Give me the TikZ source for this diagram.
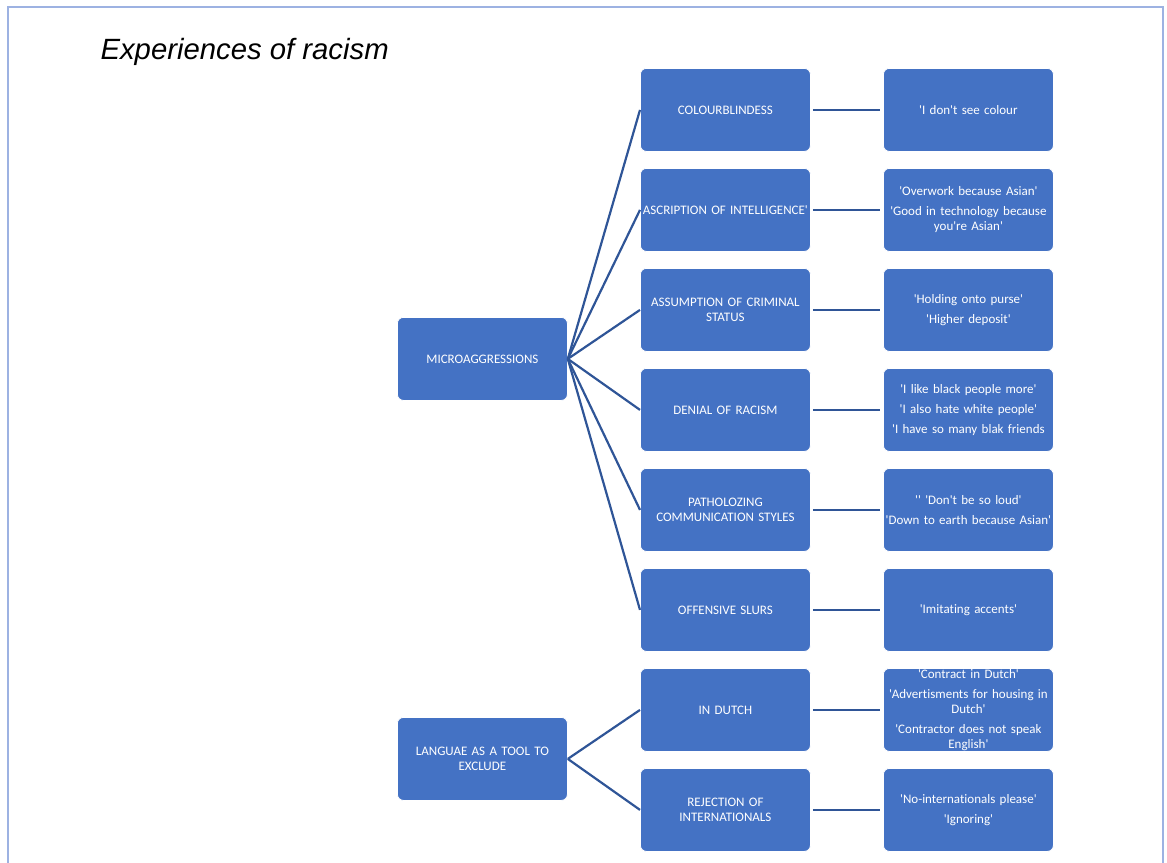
\documentclass[tikz,border=0pt]{standalone}
\usepackage{fontspec}
\setmainfont{Liberation Sans}
\newfontfamily\calfont{Carlito}[Ligatures={TeXOff,NoCommon}]
\definecolor{boxblue}{HTML}{4472C4}
\definecolor{linkblue}{HTML}{2F5597}
\definecolor{framecol}{HTML}{9DB2E2}
\begin{document}
\begin{tikzpicture}[x=1pt,y=-1pt,
  box/.style={draw=white, line width=0.8pt, fill=boxblue, rounded corners=6pt,
    minimum width=170pt, minimum height=83pt, text width=166pt, inner sep=0pt,
    text=white, align=center, anchor=north west,
    font=\calfont\fontsize{13}{15}\selectfont},
  link/.style={draw=linkblue, line width=2.2pt},
  hlink/.style={link, shorten <=2pt, shorten >=3pt}]
\useasboundingbox (0,0) rectangle (1167,862);
\draw[framecol, line width=2.5pt] (8,870) -- (8,7) -- (1163,7) -- (1163,870);
\node[anchor=base west, font=\itshape\fontsize{29.3}{34}\selectfont] (title) at (97,59) {Experiences of racism};
% left column
\node[box] (m) at (397,317) {MICROAGGRESSIONS};
\node[box] (l) at (397,717) {LANGUAE AS A TOOL TO\\EXCLUDE};
% middle column
\node[box] (c1) at (640,68) {COLOURBLINDESS};
\node[box] (c2) at (640,168) {ASCRIPTION OF INTELLIGENCE'};
\node[box] (c3) at (640,268) {ASSUMPTION OF CRIMINAL\\STATUS};
\node[box] (c4) at (640,368) {DENIAL OF RACISM};
\node[box] (c5) at (640,468) {PATHOLOZING\\COMMUNICATION STYLES};
\node[box] (c6) at (640,568) {OFFENSIVE SLURS};
\node[box] (c7) at (640,668) {IN DUTCH};
\node[box] (c8) at (640,768) {REJECTION OF\\INTERNATIONALS};
% right column
\node[box] (r1) at (883,68) {'I don't see colour};
\node[box] (r2) at (883,168) {'Overwork because Asian'\\[5pt]'Good in technology because\\you're Asian'};
\node[box] (r3) at (883,268) {'Holding onto purse'\\[5pt]'Higher deposit'};
\node[box] (r4) at (883,368) {'I like black people more'\\[5pt]'I also hate white people'\\[5pt]'I have so many blak friends};
\node[box] (r5) at (883,468) {'' 'Don't be so loud'\\[5pt]'Down to earth because Asian'};
\node[box] (r6) at (883,568) {'Imitating accents'};
\node[box] (r7) at (883,668) {'Contract in Dutch'\\[5pt]'Advertisments for housing in\\Dutch'\\[5pt]'Contractor does not speak\\English'};
\node[box] (r8) at (883,768) {'No-internationals please'\\[5pt]'Ignoring'};
% connectors
\foreach \i in {1,...,6} {\draw[link] (m.east) -- (c\i.west);}
\foreach \i in {7,8} {\draw[link] (l.east) -- (c\i.west);}
\foreach \i in {1,...,8} {\draw[hlink] (c\i.east) -- (r\i.west);}
\end{tikzpicture}
\end{document}
